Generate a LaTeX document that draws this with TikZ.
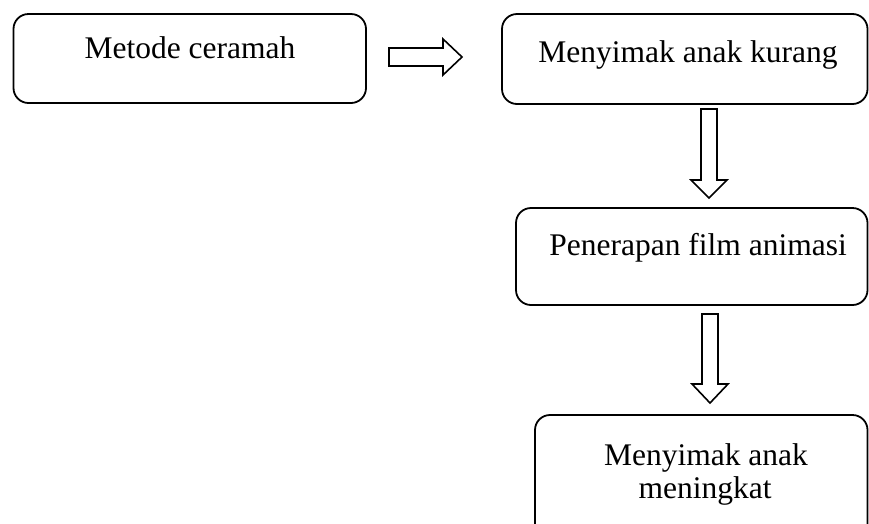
\documentclass[tikz,border=0pt]{standalone}
\usepackage{fontspec}
\setmainfont{Liberation Serif}
\begin{document}
\begin{tikzpicture}[x=1pt,y=-1pt,
  box/.style={draw=black,line width=1.8pt,rounded corners=15pt},
  lbl/.style={font=\fontsize{31.5}{33}\selectfont,inner sep=0pt,anchor=base},
  blockarrow/.style={draw=black,line width=1.6pt,fill=white,line join=miter}]
\useasboundingbox (0,0) rectangle (869,523);
\begin{scope}
\clip (0,0) rectangle (869,523);
% boxes
\draw[box] (13.5,14) rectangle (366,103);
\draw[box] (502,14) rectangle (867.5,104);
\draw[box] (516,208) rectangle (867.5,305);
\draw[box] (535,415) rectangle (867.5,570);
\end{scope}
% labels
\node[lbl] (t1) at (190,58) {Metode ceramah};
\node[lbl] (t2) at (688,62) {Menyimak anak kurang};
\node[lbl] (t3) at (698,255) {Penerapan film animasi};
\node[lbl] (t4a) at (706,465) {Menyimak anak};
\node[lbl] (t4b) at (705,498) {meningkat};
% block arrows
\coordinate (a1) at (389,57);
\draw[blockarrow] (a1) ++(0,-9) -- ++(54,0) -- ++(0,-9) -- (462,57) -- (443,75) -- ++(0,-9) -- ++(-54,0) -- cycle;
\coordinate (a2) at (709,109);
\draw[blockarrow] (a2) ++(-8,0) -- ++(16,0) -- ++(0,71) -- ++(10,0) -- (709,198) -- (691,180) -- ++(10,0) -- cycle;
\coordinate (a3) at (710,314);
\draw[blockarrow] (a3) ++(-8,0) -- ++(16,0) -- ++(0,70) -- ++(10,0) -- (710,403) -- (692,384) -- ++(10,0) -- cycle;
\end{tikzpicture}
\end{document}
